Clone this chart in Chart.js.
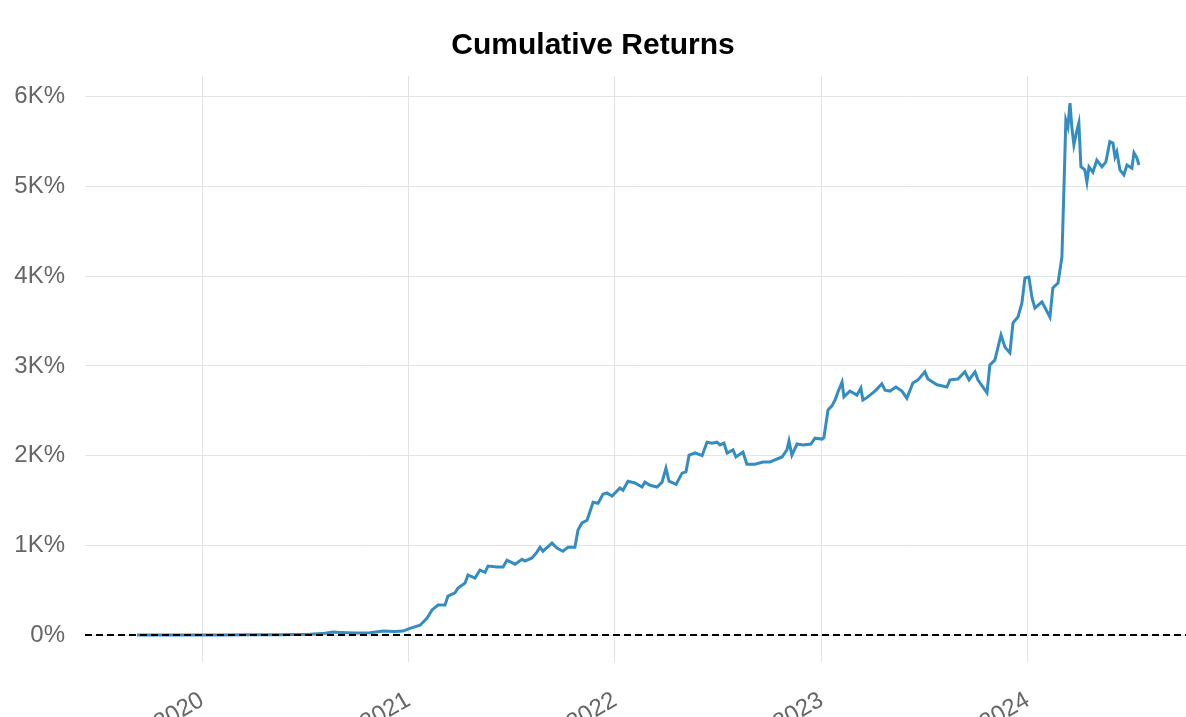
<!DOCTYPE html>
<html>
<head>
<meta charset="utf-8">
<title>Cumulative Returns</title>
<script src="https://cdn.jsdelivr.net/npm/chart.js@4.4.1/dist/chart.umd.min.js"></script>
<style>
    html, body { margin: 0; padding: 0; background: #fff; }
    #wrap { width: 1186px; height: 717px; }
</style>
</head>
<body>
<div id="wrap"><canvas id="returnsChart" width="1186" height="717"></canvas></div>
<script>
// Dates as fractional years
const dates = [
    2019.685, 2019.797, 2019.942, 2020.087, 2020.232, 2020.378, 2020.523, 2020.596, 2020.634, 2020.668,
    2020.741, 2020.814, 2020.877, 2020.935, 2020.973, 2021.007, 2021.056, 2021.090, 2021.114, 2021.143,
    2021.177, 2021.191, 2021.225, 2021.240, 2021.274, 2021.288, 2021.322, 2021.346, 2021.371, 2021.385,
    2021.429, 2021.458, 2021.477, 2021.516, 2021.550, 2021.564, 2021.598, 2021.622, 2021.637, 2021.651,
    2021.695, 2021.719, 2021.748, 2021.773, 2021.806, 2021.821, 2021.840, 2021.865, 2021.894, 2021.918,
    2021.942, 2021.961, 2021.986, 2022.024, 2022.039, 2022.063, 2022.097, 2022.131, 2022.145, 2022.170,
    2022.204, 2022.228, 2022.247, 2022.262, 2022.296, 2022.325, 2022.344, 2022.359, 2022.388, 2022.422,
    2022.446, 2022.470, 2022.494, 2022.509, 2022.528, 2022.543, 2022.572, 2022.586, 2022.620, 2022.639,
    2022.678, 2022.717, 2022.751, 2022.809, 2022.833, 2022.843, 2022.857, 2022.882, 2022.911, 2022.949,
    2022.969, 2023.003, 2023.012, 2023.032, 2023.051, 2023.066, 2023.080, 2023.100, 2023.109, 2023.138,
    2023.172, 2023.191, 2023.201, 2023.225, 2023.259, 2023.293, 2023.308, 2023.332, 2023.361, 2023.390,
    2023.414, 2023.443, 2023.468, 2023.501, 2023.516, 2023.560, 2023.608, 2023.623, 2023.661, 2023.695,
    2023.715, 2023.744, 2023.758, 2023.802, 2023.816, 2023.840, 2023.870, 2023.889, 2023.913, 2023.928,
    2023.952, 2023.971, 2023.986, 2024.005, 2024.020, 2024.034, 2024.068, 2024.107, 2024.121, 2024.146,
    2024.165, 2024.175, 2024.184, 2024.194, 2024.204, 2024.213, 2024.223, 2024.238, 2024.247, 2024.257,
    2024.276, 2024.286, 2024.296, 2024.315, 2024.334, 2024.359, 2024.378, 2024.397, 2024.412, 2024.422,
    2024.431, 2024.446, 2024.465, 2024.480, 2024.504, 2024.514, 2024.528, 2024.538
];

// Cumulative return in percent
const returns = [
    0, 0, 1, 2, 3, 5, 8, 20, 35, 30,
    22, 25, 45, 40, 45, 75, 110, 190, 280, 335,
    335, 435, 470, 525, 580, 670, 635, 725, 700, 770,
    760, 760, 835, 790, 845, 825, 860, 925, 980, 935,
    1025, 970, 935, 980, 980, 1170, 1250, 1280, 1480, 1470,
    1570, 1585, 1550, 1640, 1615, 1715, 1695, 1650, 1705, 1670,
    1650, 1705, 1860, 1715, 1680, 1805, 1820, 2005, 2030, 2000,
    2150, 2140, 2150, 2120, 2140, 2030, 2065, 1985, 2040, 1905,
    1905, 1930, 1930, 1985, 2065, 2165, 2005, 2130, 2120, 2130,
    2195, 2185, 2200, 2510, 2555, 2620, 2710, 2820, 2655, 2720,
    2675, 2755, 2620, 2655, 2720, 2800, 2730, 2720, 2765, 2720,
    2640, 2810, 2845, 2935, 2855, 2790, 2765, 2845, 2855, 2935,
    2845, 2935, 2845, 2700, 3010, 3065, 3345, 3210, 3145, 3480,
    3545, 3700, 3980, 3990, 3760, 3645, 3715, 3545, 3870, 3925,
    4215, 5000, 5740, 5665, 5930, 5665, 5465, 5630, 5710, 5220,
    5185, 5050, 5220, 5160, 5295, 5220, 5275, 5500, 5485, 5330,
    5385, 5185, 5130, 5240, 5205, 5375, 5320, 5240
];

const yearTicks = [2020, 2021, 2022, 2023, 2024];
const returnTicks = [0, 1000, 2000, 3000, 4000, 5000, 6000];

// Dashed black baseline at 0%
const zeroLinePlugin = {
    id: 'zeroLine',
    afterDatasetsDraw(chart) {
        const ctx = chart.ctx;
        const area = chart.chartArea;
        const y = chart.scales.y.getPixelForValue(0);
        ctx.save();
        ctx.strokeStyle = '#000';
        ctx.lineWidth = 2;
        ctx.setLineDash([7, 4]);
        ctx.beginPath();
        ctx.moveTo(area.left, y);
        ctx.lineTo(area.right, y);
        ctx.stroke();
        ctx.restore();
    }
};

const points = dates.map((d, i) => ({ x: d, y: returns[i] }));

new Chart(document.getElementById('returnsChart'), {
    type: 'line',
    data: {
        datasets: [{
            label: 'Strategy',
            data: points,
            borderColor: '#348dc1',
            borderWidth: 3,
            pointRadius: 0,
            tension: 0,
            fill: false
        }]
    },
    options: {
        responsive: false,
        animation: false,
        devicePixelRatio: 1,
        layout: { padding: { left: 0, right: 0, top: 0, bottom: 0 } },
        plugins: {
            legend: { display: false },
            tooltip: { enabled: false },
            title: {
                display: true,
                text: 'Cumulative Returns',
                color: '#000',
                font: { family: 'Liberation Sans, Arial, sans-serif', size: 30, weight: 'bold' },
                padding: { top: 28, bottom: 12 }
            }
        },
        scales: {
            x: {
                type: 'linear',
                min: 2019.433,
                max: 2024.766,
                afterBuildTicks: scale => { scale.ticks = yearTicks.map(v => ({ value: v })); },
                afterFit: scale => { scale.height = 55; },
                border: { display: false },
                grid: { color: '#e3e3e3', lineWidth: 1, drawTicks: false },
                ticks: {
                    autoSkip: false,
                    minRotation: 30,
                    maxRotation: 30,
                    padding: 24,
                    color: '#666',
                    font: { family: 'Liberation Sans, Arial, sans-serif', size: 24 },
                    callback: v => String(v)
                }
            },
            y: {
                min: -300,
                max: 6232,
                afterBuildTicks: scale => { scale.ticks = returnTicks.map(v => ({ value: v })); },
                afterFit: scale => { scale.width = 85; },
                border: { display: false },
                grid: { color: '#e3e3e3', lineWidth: 1, drawTicks: false },
                ticks: {
                    padding: 20,
                    color: '#666',
                    font: { family: 'Liberation Sans, Arial, sans-serif', size: 24 },
                    callback: v => v === 0 ? '0%' : (v / 1000) + 'K%'
                }
            }
        }
    },
    plugins: [zeroLinePlugin]
});
</script>
</body>
</html>
